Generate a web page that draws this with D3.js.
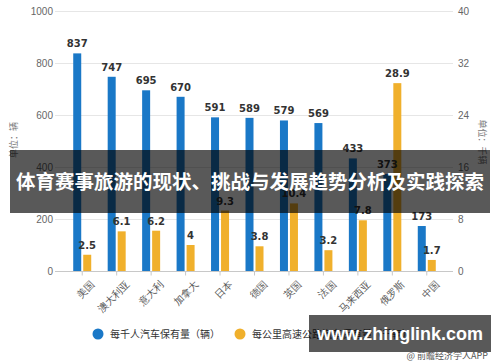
<!DOCTYPE html>
<html>
<head>
<meta charset="utf-8">
<script src="https://cdnjs.cloudflare.com/ajax/libs/d3/7.8.5/d3.min.js"></script>
<style>
  body { margin: 0; background: #fff; }
  svg { display: block; font-family: "Noto Sans CJK SC", "Noto Sans", sans-serif; }
</style>
</head>
<body>
<div id="chart"></div>
<script>
// chart data
var countries = ["美国", "澳大利亚", "意大利", "加拿大", "日本", "德国", "英国", "法国", "马来西亚", "俄罗斯", "中国"];
var carsPerThousand = [837, 747, 695, 670, 591, 589, 579, 569, 433, 373, 173];
var carsPerKm = [2.5, 6.1, 6.2, 4, 9.3, 3.8, 10.4, 3.2, 7.8, 28.9, 1.7];
var leftTicks = [0, 200, 400, 600, 800, 1000];
var rightTicks = [0, 8, 16, 24, 32, 40];
var seriesNames = ["每千人汽车保有量（辆）", "每公里高速公路汽车保有量（千辆）"];
var colors = ["#1a78c7", "#f0b02c"];

let width = 500;
let height = 362;
var plot = {left: 55, right: 453, top: 11, bottom: 271};

var svg = d3.select("#chart").append("svg")
    .attr("width", width)
    .attr("height", height);

var x = d3.scaleBand()
    .domain(countries)
    .range([65, 444]);

var sub = d3.scaleBand()
    .domain([0, 1])
    .range([-9, 9])
    .paddingInner(0.2);

var yLeft = d3.scaleLinear().domain([0, 1000]).range([plot.bottom, plot.top]);
var yRight = d3.scaleLinear().domain([0, 40]).range([plot.bottom, plot.top]);

// grid lines
svg.append("g")
    .selectAll("line")
    .data(leftTicks)
    .enter().append("line")
    .attr("x1", plot.left)
    .attr("x2", plot.right)
    .attr("y1", function(d) { return yLeft(d) + 0.5; })
    .attr("y2", function(d) { return yLeft(d) + 0.5; })
    .attr("stroke", function(d) { return d === 0 ? "#c8c8c8" : "#e6e6e6"; })
    .attr("stroke-width", 1);

// left axis
var gl = svg.append("g")
    .attr("transform", "translate(" + (plot.left - 2) + ",0)")
    .call(d3.axisLeft(yLeft).tickValues(leftTicks).tickFormat(d3.format("d")).tickSize(0).tickPadding(0));
gl.select(".domain").remove();
gl.selectAll("text").attr("fill", "#666").style("font-size", "10px").style("font-family", "'Liberation Sans', sans-serif");

// right axis
var gr = svg.append("g")
    .attr("transform", "translate(" + (plot.right + 5) + ",0)")
    .call(d3.axisRight(yRight).tickValues(rightTicks).tickFormat(d3.format("d")).tickSize(0).tickPadding(0));
gr.select(".domain").remove();
gr.selectAll("text").attr("fill", "#666").style("font-size", "10px").style("font-family", "'Liberation Sans', sans-serif");

// bottom axis
var gx = svg.append("g")
    .attr("transform", "translate(0," + (plot.bottom + 0.5) + ")")
    .call(d3.axisBottom(x).tickSize(4).tickSizeOuter(0).tickPadding(4));
gx.select(".domain").remove();
gx.selectAll("line").attr("stroke", "#c8c8c8");
gx.selectAll("text")
    .attr("fill", "#555")
    .style("font-size", "10px")
    .attr("text-anchor", "end")
    .attr("transform", "translate(4,4) rotate(-45)")
    .attr("dy", "0.5em");

// axis titles
svg.append("text")
    .attr("transform", "translate(17,140) rotate(-90)")
    .attr("text-anchor", "middle")
    .attr("fill", "#777")
    .style("font-size", "9px")
    .text("单位：辆");

svg.append("text")
    .attr("transform", "translate(479,142) rotate(90)")
    .attr("text-anchor", "middle")
    .attr("fill", "#777")
    .style("font-size", "9px")
    .text("单位：千辆");

// bars
var groups = svg.append("g").selectAll("g")
    .data(countries)
    .enter().append("g")
    .attr("transform", function(d) { return "translate(" + (x(d) + x.bandwidth() / 2) + ",0)"; });

groups.append("rect")
    .attr("x", sub(0))
    .attr("width", sub.bandwidth())
    .attr("y", function(d, i) { return yLeft(carsPerThousand[i]); })
    .attr("height", function(d, i) { return plot.bottom - yLeft(carsPerThousand[i]); })
    .attr("fill", colors[0]);

groups.append("rect")
    .attr("x", sub(1))
    .attr("width", sub.bandwidth())
    .attr("y", function(d, i) { return yRight(carsPerKm[i]); })
    .attr("height", function(d, i) { return plot.bottom - yRight(carsPerKm[i]); })
    .attr("fill", colors[1]);

// value labels
groups.append("text")
    .attr("x", sub(0) + sub.bandwidth() / 2)
    .attr("y", function(d, i) { return yLeft(carsPerThousand[i]) - 6; })
    .attr("text-anchor", "middle")
    .attr("fill", "#333")
    .style("font-size", "10px")
    .style("font-weight", "bold")
    .style("font-family", "'DejaVu Sans', sans-serif")
    .text(function(d, i) { return carsPerThousand[i]; });

groups.append("text")
    .attr("x", sub(1) + sub.bandwidth() / 2)
    .attr("y", function(d, i) { return yRight(carsPerKm[i]) - 6; })
    .attr("text-anchor", "middle")
    .attr("fill", "#333")
    .style("font-size", "10px")
    .style("font-weight", "bold")
    .style("font-family", "'DejaVu Sans', sans-serif")
    .text(function(d, i) { return carsPerKm[i]; });

// legend
var legendX = [98, 240];
var legend = svg.append("g").selectAll("g")
    .data(seriesNames)
    .enter().append("g")
    .attr("transform", function(d, i) { return "translate(" + legendX[i] + ",334)"; });
legend.append("circle")
    .attr("r", 5.5)
    .attr("fill", function(d, i) { return colors[i]; });
legend.append("text")
    .attr("x", 12)
    .attr("dy", "0.35em")
    .attr("fill", "#333")
    .style("font-size", "10px")
    .text(function(d) { return d; });

// title banner overlay
svg.append("rect")
    .attr("x", 10).attr("y", 150)
    .attr("width", 480).attr("height", 63)
    .attr("fill", "#000")
    .attr("fill-opacity", 0.65);
svg.append("text")
    .attr("x", 250).attr("y", 182)
    .attr("dy", "0.35em")
    .attr("text-anchor", "middle")
    .attr("fill", "#fff")
    .style("font-size", "19.5px")
    .style("font-weight", "bold")
    .text("体育赛事旅游的现状、挑战与发展趋势分析及实践探索");

// site watermark
svg.append("rect")
    .attr("x", 309).attr("y", 315)
    .attr("width", 182).attr("height", 37)
    .attr("fill", "#000")
    .attr("fill-opacity", 0.65);
svg.append("text")
    .attr("x", 400).attr("y", 334)
    .attr("dy", "0.35em")
    .attr("text-anchor", "middle")
    .attr("fill", "#fff")
    .style("font-size", "18px")
    .style("font-weight", "bold")
    .style("font-family", "'Liberation Sans', sans-serif")
    .attr("textLength", 166)
    .attr("lengthAdjust", "spacingAndGlyphs")
    .text("www.zhinglink.com");
svg.append("text")
    .attr("x", 488).attr("y", 356)
    .attr("dy", "0.35em")
    .attr("text-anchor", "end")
    .attr("fill", "#555")
    .style("font-size", "9px")
    .text("@ 前瞻经济学人APP");
</script>
</body>
</html>
